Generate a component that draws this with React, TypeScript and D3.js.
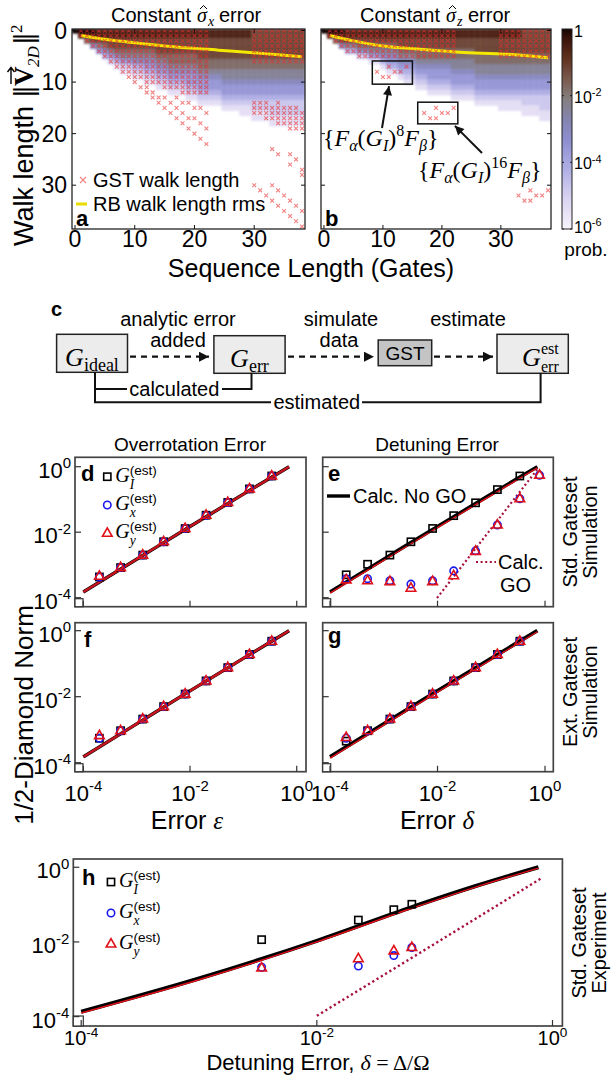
import React from 'react';
import * as d3 from 'd3';

const SANS = "'Liberation Sans', Arial, Helvetica, sans-serif";
const SERIF = "'Liberation Serif', 'DejaVu Serif', serif";
const MATH = "'DejaVu Serif', serif";

// ---------- a / b : walk-length probability maps ----------
// one string per sequence length 0..38, char at index r = walk length r,
// hex digit k means log10(prob) = -0.6 * k
const heatA = [
  '0', '01', '013', '0125', '11246', '112357', '1122468', '11223579',
  '112234689', '112234689', '1122345789', '1122345789', '11223456789', '11223456789',
  '112223456789', '112223456789', '1122233456789', '1122233456789', '1122233456789',
  '11222334566789', '11222334566789', '112222334566789', '112222334566789',
  '112222334566789', '112222334566789', '1122223344566789', '1122223344566789',
  '1122223344566789', '11222233445667899', '11222233445667899', '222222334456678899',
  '222222334456678899', '222222334456678899', '2222223344566788899', '2222223344566788899',
  '2222223344566788899', '2222223344566788899a', '2222223344566788899a', '2222223344566788899a',
];
const heatB = [
  '0', '01', '013', '0125', '11247', '11247', '112358', '112358', '1123469', '1123469',
  '11234579', '112345679', '112345679', '1122345679', '11223456789', '11223456789',
  '112233456789', '112233456789', '1122334566789', '1122334566789', '1122334566789',
  '1122334566789', '11223344566789', '11223344566789', '11223344566789', '11223344566789',
  '112223344566789', '112223344566789', '112223344566789', '112223344566789',
  '1122233445667899', '1122233445667899', '1122233445667899', '1122233445667899',
  '22222334456678899', '22222334456678899', '22222334456678899',
  '222223344566788899', '222223344566788899',
];

const rmsSeqA = [1, 5, 11, 16, 24, 31, 38];
const rmsA = [0.95, 1.7, 2.5, 3.1, 3.8, 4.4, 5.1];
const rmsSeqB = [1, 5, 10, 16, 23, 31, 38];
const rmsB = [0.95, 2.0, 3.0, 3.6, 4.2, 4.6, 5.3];

// GST walk lengths: runs are [sequence length, first walk length, last walk length]
const gstRunsA = [
  [1, 0, 1], [2, 0, 2], [3, 0, 3], [4, 0, 4], [5, 0, 5], [6, 0, 6], [7, 0, 7], [8, 0, 8],
  [9, 0, 8], [10, 0, 9], [11, 0, 9], [12, 0, 10], [13, 0, 10], [14, 0, 10], [15, 0, 11],
  [16, 0, 11], [17, 0, 11], [18, 0, 12], [19, 0, 12], [20, 0, 12], [21, 0, 12], [22, 0, 12],
  [30, 0, 6], [31, 0, 6], [32, 0, 6], [33, 0, 6], [34, 0, 6], [35, 0, 6], [36, 0, 6], [37, 0, 6], [38, 0, 6],
  [30, 14, 16], [31, 14, 16], [32, 14, 17], [33, 15, 17], [34, 14, 18], [35, 15, 18],
  [36, 15, 19], [37, 15, 19], [38, 16, 19],
];
const gstPtsA = [
  [9, 9], [10, 10], [11, 11], [12, 12], [13, 13], [14, 14], [15, 15], [16, 16], [17, 17],
  [18, 18], [19, 19], [20, 20], [21, 21], [22, 22],
  [12, 11], [13, 12], [14, 13], [15, 13], [16, 14], [17, 15], [18, 16], [19, 17], [20, 17], [21, 18], [22, 19],
  [17, 13], [18, 14], [19, 14], [20, 15], [21, 15], [22, 16],
  [33, 23], [34, 24], [36, 24], [36, 26], [37, 25], [38, 27], [38, 28],
  [30, 30], [31, 31], [32, 32], [33, 33], [34, 34], [35, 35], [36, 36], [37, 37], [38, 38],
  [33, 30], [34, 31], [35, 32], [36, 33], [37, 34], [38, 35],
];
const gstRunsB = [
  [1, 0, 1], [2, 0, 2], [3, 0, 3], [4, 0, 4], [5, 0, 4], [6, 0, 5], [7, 0, 5], [8, 0, 5],
  [9, 0, 5], [10, 0, 5], [11, 0, 5], [12, 0, 5], [13, 0, 5], [14, 0, 5], [15, 0, 5], [16, 0, 5],
  [17, 0, 5], [18, 0, 5], [19, 0, 5], [20, 0, 5], [21, 0, 5], [22, 0, 5],
  [30, 0, 5], [31, 0, 5], [32, 0, 5], [33, 0, 5], [34, 0, 5], [35, 0, 5], [36, 0, 5], [37, 0, 5], [38, 0, 5],
];
const gstPtsB = [
  [9, 8], [10, 9], [11, 7], [11, 9], [12, 8], [13, 8], [14, 7],
  [17, 16], [18, 17], [19, 15], [19, 17], [20, 16], [21, 16], [22, 15],
  [33, 32], [34, 33], [35, 31], [35, 33], [36, 32], [37, 32], [38, 31],
];

const seqTicks = [0, 10, 20, 30];
const probTicks = [1e-2, 1e-4, 1e-6];

// ---------- d - h : half diamond norm vs error ----------
const errX = [2e-4, 5e-4, 1.3e-3, 3.2e-3, 8.1e-3, 2.0e-2, 5.1e-2, 0.13, 0.34];
const errX10 = [2e-4, 5e-4, 1.3e-3, 3.2e-3, 8.1e-3, 2.0e-2, 5.1e-2, 0.13, 0.34, 0.79];

const dI = [4.3e-4, 8.3e-4, 2.0e-3, 5.1e-3, 1.29e-2, 3.3e-2, 8.1e-2, 0.21, 0.52];
const dX = [4.3e-4, 8.3e-4, 2.0e-3, 5.1e-3, 1.29e-2, 3.3e-2, 8.1e-2, 0.21, 0.52];
const dY = [4.5e-4, 8.3e-4, 2.0e-3, 5.1e-3, 1.29e-2, 3.3e-2, 8.1e-2, 0.21, 0.52];

const eI = [5.0e-4, 1.05e-3, 2.0e-3, 5.1e-3, 1.3e-2, 3.2e-2, 7.9e-2, 0.2, 0.52];
const eX = [3.8e-4, 3.8e-4, 3.3e-4, 2.6e-4, 3.3e-4, 6.6e-4, 2.7e-3, 1.66e-2, 0.105, 0.55];
const eY = [3.5e-4, 3.3e-4, 3.1e-4, 1.95e-4, 3.1e-4, 4.7e-4, 2.6e-3, 1.66e-2, 0.105, 0.55];

const fI = [5.5e-4, 9.3e-4, 2.1e-3, 5.0e-3, 1.2e-2, 3.0e-2, 7.6e-2, 0.19, 0.48];
const fX = [5.5e-4, 9.3e-4, 2.1e-3, 5.0e-3, 1.2e-2, 3.0e-2, 7.6e-2, 0.19, 0.48];
const fY = [6.6e-4, 9.3e-4, 2.1e-3, 5.0e-3, 1.2e-2, 3.0e-2, 7.6e-2, 0.19, 0.48];

const gI = [4.5e-4, 9.3e-4, 2.1e-3, 5.0e-3, 1.2e-2, 3.0e-2, 7.6e-2, 0.19, 0.48];
const gX = [5.5e-4, 9.3e-4, 2.1e-3, 5.0e-3, 1.2e-2, 3.0e-2, 7.6e-2, 0.19, 0.48];
const gY = [5.8e-4, 9.3e-4, 2.1e-3, 5.0e-3, 1.2e-2, 3.0e-2, 7.6e-2, 0.19, 0.48];

const calcX = [1e-4, 1e-3, 1e-2, 0.1, 0.72];
const calcNoGO = [1.5e-4, 1.5e-3, 1.5e-2, 0.145, 1.0];
const calcNoGORed = [1.38e-4, 1.38e-3, 1.38e-2, 0.133, 0.93];
const calcGOX = [0.0098, 0.1, 0.76];
const calcGO = [9.8e-5, 1.3e-2, 0.93];

const hX = [3.4e-3, 2.25e-2, 4.5e-2, 6.4e-2];
const hI = [1.15e-2, 3.85e-2, 7.3e-2, 0.102];
const hXg = [2.1e-3, 2.25e-3, 4.3e-3, 7.1e-3];
const hYg = [2.0e-3, 3.55e-3, 5.75e-3, 7.1e-3];
const hCalcX = [1e-4, 1e-3, 1e-2, 6.5e-2, 0.22, 0.76];
const hNoGO = [1.35e-4, 1.05e-3, 1.07e-2, 8.7e-2, 0.31, 1.0];
const hNoGORed = [1.25e-4, 0.97e-3, 1.0e-2, 8.1e-2, 0.29, 0.95];
const hGOX = [1e-2, 0.1, 0.79];
const hGO = [1.05e-4, 8.9e-3, 0.49];

const decades = [1e-4, 1e-2, 1];

// colour map of the probability bar (log10 prob -> colour)
const probColor = d3.scaleLinear<string>()
  .domain([0, -0.3, -0.9, -1.5, -2.1, -2.7, -3.3, -4.1, -5, -6])
  .range(['#150502', '#3a140a', '#62321f', '#7a5a4e', '#857f80', '#8484ae', '#8d8dcf', '#ababe3', '#d6d0f0', '#f8f4fb'])
  .interpolate(d3.interpolateRgb)
  .clamp(true);

const RED = '#e01018';
const BLUE = '#1a1aee';

const Pow = ({ x, y, e, anchor = 'middle', size = 22 }) => (
  <text x={x} y={y} textAnchor={anchor} fontSize={size}>
    10<tspan dy={-size * 0.42} fontSize={size * 0.68}>{e}</tspan>
  </text>
);

const GLabel = ({ x, y, sub, size = 20 }) => (
  <g>
    <text x={x} y={y} fontFamily={SERIF} fontStyle="italic" fontSize={size}>G</text>
    <text x={x + size * 0.72} y={y + size * 0.34} fontFamily={SERIF} fontStyle="italic" fontSize={size * 0.68}>{sub}</text>
    <text x={x + size * 0.72} y={y - size * 0.36} fontSize={size * 0.68}>(est)</text>
  </g>
);

const xMark = (cx, cy, key, s = 1.9) => (
  <path key={key} d={`M${cx - s},${cy - s}L${cx + s},${cy + s}M${cx - s},${cy + s}L${cx + s},${cy - s}`}
    stroke="#e83030" strokeWidth={1.1} opacity={0.6} />
);

function HeatPanel({ id, box, heat, rmsSeq, rms, runs, pts, showY }) {
  const x = d3.scaleLinear().domain([-0.5, 38.5]).range([box.x0, box.x1]);
  const y = d3.scaleLinear().domain([-0.3, 38.5]).range([box.y0, box.y1]);
  const cells = [];
  heat.forEach((col, c) => col.split('').forEach((ch, r) => {
    const top = Math.max(box.y0, y(r - 0.5));
    cells.push(
      <rect key={`${c}-${r}`} x={x(c - 0.5)} y={top} width={x(c + 0.5) - x(c - 0.5) + 0.4}
        height={y(r + 0.5) - top + 0.4} fill={probColor(-0.6 * parseInt(ch, 16))} />
    );
  }));
  const rmsPath = d3.line().x(d => x(d[0])).y(d => y(d[1])).curve(d3.curveMonotoneX)(rmsSeq.map((s, i) => [s, rms[i]]));
  const marks = [];
  runs.forEach(([s, r0, r1]) => d3.range(r0, r1 + 1).forEach(r => marks.push(xMark(x(s), y(r), `r${s}-${r}`))));
  pts.forEach(([s, r], i) => marks.push(xMark(x(s), y(r), `p${i}`)));
  const tl = 4;
  return (
    <g>
      <clipPath id={`clip${id}`}><rect x={box.x0} y={box.y0} width={box.x1 - box.x0} height={box.y1 - box.y0} /></clipPath>
      <g clipPath={`url(#clip${id})`}>
        <g filter="url(#soft)">{cells}</g>
        <path d={rmsPath} fill="none" stroke="#f4e800" strokeWidth={3} />
        {marks}
      </g>
      <rect x={box.x0} y={box.y0} width={box.x1 - box.x0} height={box.y1 - box.y0} fill="none" stroke="#111" strokeWidth={1.2} />
      {seqTicks.map(t => (
        <g key={t} stroke="#111" strokeWidth={1}>
          <line x1={x(t)} x2={x(t)} y1={box.y1} y2={box.y1 - tl} />
          <line x1={x(t)} x2={x(t)} y1={box.y0} y2={box.y0 + tl} />
          <line x1={box.x0} x2={box.x0 + tl} y1={y(t)} y2={y(t)} />
          <line x1={box.x1} x2={box.x1 - tl} y1={y(t)} y2={y(t)} />
        </g>
      ))}
      {seqTicks.map(t => (
        <text key={`xl${t}`} x={x(t)} y={247} textAnchor="middle" fontSize={23}>{t}</text>
      ))}
      {showY && seqTicks.map(t => (
        <text key={`yl${t}`} x={box.x0 - 5} y={y(t) + 8} textAnchor="end" fontSize={23}>{t}</text>
      ))}
    </g>
  );
}

function LogPanel({ box, xd, yd, showX, showY, tickSize = 22, children }) {
  const x = d3.scaleLog().domain([10 ** xd[0], 10 ** xd[1]]).range([box.x0, box.x1]);
  const y = d3.scaleLog().domain([10 ** yd[0], 10 ** yd[1]]).range([box.y1, box.y0]);
  const sq = box.sq || 8;
  return (
    <g>
      {children(x, y)}
      <rect x={box.x0} y={box.y0} width={box.x1 - box.x0} height={box.y1 - box.y0} fill="none" stroke="#444" strokeWidth={1.7} />
      <rect x={box.x0} y={box.y1 - sq} width={sq} height={sq} fill="#fff" stroke="#333" strokeWidth={1.2} />
      {decades.map((t, i) => (
        <g key={i} stroke="#333" strokeWidth={1.2}>
          <line x1={x(t)} x2={x(t)} y1={box.y1} y2={box.y1 - 6} />
          <line x1={box.x0} x2={box.x0 + 6} y1={y(t)} y2={y(t)} />
        </g>
      ))}
      {showY && decades.map((t, i) => (
        <Pow key={`y${i}`} x={box.x0 - 4} y={y(t) + 11} e={Math.round(Math.log10(t))} anchor="end" />
      ))}
      {showX && decades.map((t, i) => (
        <Pow key={`x${i}`} x={x(t)} y={box.y1 + showX} e={Math.round(Math.log10(t))} size={tickSize} />
      ))}
    </g>
  );
}

const sqMark = (cx, cy, key) => <rect key={key} x={cx - 3.6} y={cy - 3.6} width={7.2} height={7.2} fill="none" stroke="#000" strokeWidth={1.6} />;
const ciMark = (cx, cy, key) => <circle key={key} cx={cx} cy={cy} r={3.7} fill="none" stroke={BLUE} strokeWidth={1.6} />;
const trMark = (cx, cy, key) => (
  <path key={key} d={`M${cx},${cy - 5.4}L${cx + 4.8},${cy + 3}L${cx - 4.8},${cy + 3}Z`} fill="none" stroke={RED} strokeWidth={1.6} />
);

function series(x, y, xs, ys, mark, tag) {
  return ys.map((v, i) => mark(x(xs[i]), y(v), `${tag}${i}`));
}

function linePath(x, y, xs, ys) {
  return d3.line().x(d => x(d[0])).y(d => y(d[1])).curve(d3.curveMonotoneX)(xs.map((v, i) => [v, ys[i]]));
}

const SideLabel = ({ cy, b1, b2, l1, l2 }) => (
  <g fontSize={20}>
    <text transform={`translate(${b1},${cy}) rotate(-90)`} textAnchor="middle">{l1}</text>
    <text transform={`translate(${b2},${cy}) rotate(-90)`} textAnchor="middle">{l2}</text>
  </g>
);

const Legend3 = ({ x, y, gap }) => (
  <g>
    {sqMark(x, y, 'l1')}
    {ciMark(x, y + gap, 'l2')}
    {trMark(x, y + 2 * gap, 'l3')}
    <GLabel x={x + 8} y={y + 5} sub="I" />
    <GLabel x={x + 8} y={y + gap + 5} sub="x" />
    <GLabel x={x + 8} y={y + 2 * gap + 5} sub="y" />
  </g>
);

// "Constant σ̂_k error" built from pieces so the hat sits on the sigma
const SigmaTitle = ({ cx, k }) => {
  const x0 = cx - 77;
  return (
    <g fontSize={20}>
      <text x={x0} y={22}>Constant</text>
      <text x={x0 + 86} y={22} fontFamily={SERIF} fontStyle="italic">{'\u03C3'}</text>
      <path d={`M${x0 + 89},${9}L${x0 + 92.5},${5.5}L${x0 + 96},${9}`} fill="none" stroke="#000" strokeWidth={1} />
      <text x={x0 + 97} y={26} fontFamily={SERIF} fontStyle="italic" fontSize={14}>{k}</text>
      <text x={x0 + 108} y={22}>error</text>
    </g>
  );
};

const FLabel = ({ x, y, pow }) => (
  <text x={x} y={y} fontFamily={SERIF} fontSize={24}>
    {'{'}<tspan fontStyle="italic">F</tspan><tspan fontStyle="italic" fontSize={16} dy={5}>{'\u03B1'}</tspan>
    <tspan dy={-5}>(</tspan><tspan fontStyle="italic">G</tspan><tspan fontStyle="italic" fontSize={16} dy={5}>I</tspan>
    <tspan dy={-5}>)</tspan><tspan fontSize={16} dy={-10}>{pow}</tspan><tspan fontStyle="italic" dy={10}>F</tspan>
    <tspan fontStyle="italic" fontSize={16} dy={5}>{'\u03B2'}</tspan><tspan dy={-5}>{'}'}</tspan>
  </text>
);

// rotated y title of panels a/b, laid out piece by piece in the rotated frame
const WalkTitle = () => (
  <g transform="translate(33,134) rotate(-90)">
    <text x={-112} y={0} fontSize={27}>Walk length</text>
    <text x={36} y={0} fontFamily={MATH} fontSize={26}>{'\u2016'}</text>
    <text x={48} y={0} fontFamily={SERIF} fontWeight="bold" fontSize={27}>V</text>
    <path d="M50,-22L66,-22M62,-25.5L66.5,-22L62,-18.5" fill="none" stroke="#000" strokeWidth={1.4} />
    <text x={67} y={6} fontFamily={SERIF} fontStyle="italic" fontSize={17}>2D</text>
    <text x={89} y={0} fontFamily={MATH} fontSize={26}>{'\u2016'}</text>
    <text x={101} y={-11} fontFamily={SERIF} fontSize={17}>2</text>
  </g>
);

function Diagram() {
  const ay = 356.7;
  const boxes = [
    { x0: 56.6, x1: 127.5, y0: 334.3, y1: 372.3, fill: '#ececec' },
    { x0: 213.9, x1: 285.1, y0: 335.7, y1: 373.3, fill: '#ececec' },
    { x0: 378.2, x1: 431.7, y0: 340, y1: 365.7, fill: '#c4c4c4' },
    { x0: 497, x1: 568.3, y0: 334.3, y1: 373.3, fill: '#ececec' },
  ];
  return (
    <g fontSize={20}>
      <text x={51} y={316} fontWeight="bold" fontSize={20}>c</text>
      {boxes.map((b, i) => (
        <rect key={i} x={b.x0} y={b.y0} width={b.x1 - b.x0} height={b.y1 - b.y0} fill={b.fill} stroke="#222" strokeWidth={1.5} />
      ))}
      <text x={92} y={366} textAnchor="middle" fontFamily={SERIF}>
        <tspan fontStyle="italic" fontSize={26}>G</tspan><tspan fontSize={18} dy={5}>ideal</tspan>
      </text>
      <text x={249.5} y={367} textAnchor="middle" fontFamily={SERIF}>
        <tspan fontStyle="italic" fontSize={26}>G</tspan><tspan fontSize={18} dy={5}>err</tspan>
      </text>
      <text x={405} y={360} textAnchor="middle" fontSize={19}>GST</text>
      <text x={522} y={366} fontFamily={SERIF} fontStyle="italic" fontSize={26}>G</text>
      <text x={541} y={354} fontFamily={SERIF} fontSize={16}>est</text>
      <text x={541} y={372} fontFamily={SERIF} fontSize={16}>err</text>
      <g stroke="#111" strokeWidth={2.2} strokeDasharray="6 5" fill="none">
        <line x1={130} x2={209} y1={ay} y2={ay} markerEnd="url(#ah)" />
        <line x1={288} x2={374} y1={ay} y2={ay} markerEnd="url(#ah)" />
        <line x1={434} x2={493} y1={ay} y2={ay} markerEnd="url(#ah)" />
      </g>
      <text x={178} y={325.7} textAnchor="middle">analytic error</text>
      <text x={178} y={347.3} textAnchor="middle">added</text>
      <text x={341} y={325.7} textAnchor="middle">simulate</text>
      <text x={339} y={347.3} textAnchor="middle">data</text>
      <text x={468} y={325.7} textAnchor="middle">estimate</text>
      <g stroke="#111" strokeWidth={2} fill="none">
        <polyline points="95,372.3 95,402.3 271,402.3" />
        <line x1={95} x2={127} y1={389} y2={389} />
        <polyline points="222,389 251.5,389 251.5,373.3" />
        <polyline points="362,402.3 540.6,402.3 540.6,373.3" />
      </g>
      <text x={174.3} y={396} textAnchor="middle">calculated</text>
      <text x={316.8} y={409.3} textAnchor="middle">estimated</text>
    </g>
  );
}

export default function App() {
  const boxA = { x0: 72, x1: 305, y0: 29, y1: 229 };
  const boxB = { x0: 321, x1: 551, y0: 29, y1: 229 };
  const xB = d3.scaleLinear().domain([-0.5, 38.5]).range([boxB.x0, boxB.x1]);
  const yB = d3.scaleLinear().domain([-0.3, 38.5]).range([boxB.y0, boxB.y1]);
  const cb = d3.scaleLog().domain([1e-6, 1]).range([229, 29]);

  const boxD = { x0: 75, x1: 306, y0: 457.3, y1: 606.7 };
  const boxE = { x0: 322.7, x1: 553.3, y0: 457.3, y1: 606.7 };
  const boxF = { x0: 75, x1: 306, y0: 622.7, y1: 771.7 };
  const boxG = { x0: 322.7, x1: 553.3, y0: 622.7, y1: 771.7 };
  const boxH = { x0: 73.3, x1: 562.4, y0: 859, y1: 1026, sq: 10 };
  const xdL = [-4.156, 0.174], xdR = [-4.136, 0.154];
  const ydTop = [-4.275, 0.287], ydBot = [-4.273, 0.242];

  return (
    <svg width={611} height={1075} style={{ position: 'absolute', left: 0, top: 0, background: '#fff' }} fontFamily={SANS}>
      <defs>
        <filter id="soft" x="-5%" y="-5%" width="110%" height="110%">
          <feGaussianBlur stdDeviation="1.3" />
        </filter>
        <linearGradient id="cbar" x1="0" y1="0" x2="0" y2="1">
          {d3.range(0, 1.0001, 0.05).map(t => (
            <stop key={t} offset={t} stopColor={probColor(-6 * t)} />
          ))}
        </linearGradient>
        <marker id="ah" viewBox="0 0 10 10" refX="10" refY="5" markerWidth="14" markerHeight="10" markerUnits="userSpaceOnUse" orient="auto">
          <path d="M0,0L10,5L0,10Z" fill="#111" stroke="none" />
        </marker>
        <marker id="ah2" viewBox="0 0 10 10" refX="10" refY="5" markerWidth="11" markerHeight="9" markerUnits="userSpaceOnUse" orient="auto">
          <path d="M0,0L10,5L0,10Z" fill="#111" />
        </marker>
      </defs>

      {/* ---------- a ---------- */}
      <SigmaTitle cx={188} k="x" />
      <HeatPanel id="A" box={boxA} heat={heatA} rmsSeq={rmsSeqA} rms={rmsA} runs={gstRunsA} pts={gstPtsA} showY />
      {xMark(83, 180, 'leg', 3)}
      <text x={93} y={187} fontSize={20}>GST walk length</text>
      <line x1={76} x2={87} y1={204} y2={204} stroke="#e8dc00" strokeWidth={3} />
      <text x={93} y={211} fontSize={20}>RB walk length rms</text>
      <text x={76} y={226} fontSize={22} fontWeight="bold">a</text>

      {/* ---------- b ---------- */}
      <SigmaTitle cx={437} k="z" />
      <HeatPanel id="B" box={boxB} heat={heatB} rmsSeq={rmsSeqB} rms={rmsB} runs={gstRunsB} pts={gstPtsB} />
      <g fill="none" stroke="#111" strokeWidth={1.5}>
        <rect x={xB(8.2)} y={yB(5.9)} width={xB(15) - xB(8.2)} height={yB(10.4) - yB(5.9)} />
        <rect x={xB(15.9)} y={yB(13.9)} width={xB(22.7) - xB(15.9)} height={yB(18.1) - yB(13.9)} />
      </g>
      <g stroke="#111" strokeWidth={2}>
        <line x1={382} y1={128} x2={389} y2={yB(10.4) + 2} markerEnd="url(#ah2)" />
        <line x1={482} y1={153} x2={xB(22.2)} y2={yB(18.1) + 2} markerEnd="url(#ah2)" />
      </g>
      <FLabel x={323} y={146} pow="8" />
      <FLabel x={418} y={178} pow="16" />
      <text x={325} y={226} fontSize={22} fontWeight="bold">b</text>

      {/* colour bar */}
      <rect x={562} y={29} width={10} height={200} fill="url(#cbar)" stroke="#222" strokeWidth={1} />
      {probTicks.map(t => (
        <g key={t} stroke="#222">
          <line x1={562} x2={564} y1={cb(t)} y2={cb(t)} />
          <line x1={570} x2={572} y1={cb(t)} y2={cb(t)} />
        </g>
      ))}
      <text x={574} y={37} fontSize={16}>1</text>
      {probTicks.map(t => (
        <Pow key={t} x={574} y={Math.min(cb(t) + 7, 233)} e={Math.round(Math.log10(t))} anchor="start" size={16} />
      ))}
      <text x={586} y={256} textAnchor="middle" fontSize={19}>prob.</text>

      {/* axis titles of a/b */}
      <WalkTitle />
      <text x={311} y={277} textAnchor="middle" fontSize={25}>Sequence Length (Gates)</text>

      {/* ---------- c ---------- */}
      <Diagram />

      {/* ---------- d ---------- */}
      <text x={190} y={451} textAnchor="middle" fontSize={19}>Overrotation Error</text>
      <LogPanel box={boxD} xd={xdL} yd={ydTop} showY>
        {(x, y) => (
          <g>
            <path d={linePath(x, y, calcX, calcNoGO)} fill="none" stroke="#000" strokeWidth={3.4} />
            <path d={linePath(x, y, calcX, calcNoGO)} fill="none" stroke="#c8141e" strokeWidth={2.4} />
            {series(x, y, errX, dI, sqMark, 's')}
            {series(x, y, errX, dX, ciMark, 'c')}
            {series(x, y, errX, dY, trMark, 't')}
          </g>
        )}
      </LogPanel>
      <text x={81} y={481} fontSize={22} fontWeight="bold">d</text>
      <Legend3 x={107.3} y={476.7} gap={28.3} />

      {/* ---------- e ---------- */}
      <text x={437} y={451} textAnchor="middle" fontSize={19}>Detuning Error</text>
      <LogPanel box={boxE} xd={xdR} yd={ydTop}>
        {(x, y) => (
          <g>
            <path d={linePath(x, y, calcX, calcNoGO)} fill="none" stroke="#000" strokeWidth={3.6} />
            <path d={linePath(x, y, calcX, calcNoGORed)} fill="none" stroke={RED} strokeWidth={1.4} />
            <path d={linePath(x, y, calcGOX, calcGO)} fill="none" stroke="#a8103c" strokeWidth={2.2} strokeDasharray="2 2.6" />
            {series(x, y, errX, eI, sqMark, 's')}
            {series(x, y, errX10, eX, ciMark, 'c')}
            {series(x, y, errX10, eY, trMark, 't')}
          </g>
        )}
      </LogPanel>
      <text x={328} y={481} fontSize={22} fontWeight="bold">e</text>
      <line x1={327} x2={350} y1={496} y2={496} stroke="#000" strokeWidth={3.4} />
      <text x={353} y={503} fontSize={20}>Calc. No GO</text>
      <line x1={476} x2={496} y1={562} y2={562} stroke="#a8103c" strokeWidth={2.2} strokeDasharray="2 2.6" />
      <text x={498} y={569} fontSize={20}>Calc.</text>
      <text x={500} y={592} fontSize={20}>GO</text>
      <SideLabel cy={532} b1={577} b2={597} l1="Std. Gateset" l2="Simulation" />

      {/* ---------- f ---------- */}
      <LogPanel box={boxF} xd={xdL} yd={ydBot} showY showX={29}>
        {(x, y) => (
          <g>
            <path d={linePath(x, y, calcX, calcNoGO)} fill="none" stroke="#000" strokeWidth={3.4} />
            <path d={linePath(x, y, calcX, calcNoGO)} fill="none" stroke="#c8141e" strokeWidth={2.4} />
            {series(x, y, errX, fI, sqMark, 's')}
            {series(x, y, errX, fX, ciMark, 'c')}
            {series(x, y, errX, fY, trMark, 't')}
          </g>
        )}
      </LogPanel>
      <text x={84} y={647} fontSize={22} fontWeight="bold">f</text>
      <text x={187} y={829} textAnchor="middle" fontSize={25}>
        Error <tspan fontFamily={SERIF} fontStyle="italic">{'\u03B5'}</tspan>
      </text>

      {/* ---------- g ---------- */}
      <LogPanel box={boxG} xd={xdR} yd={ydBot} showX={29}>
        {(x, y) => (
          <g>
            <path d={linePath(x, y, calcX, calcNoGO)} fill="none" stroke="#000" strokeWidth={3.8} />
            <path d={linePath(x, y, calcX, calcNoGORed)} fill="none" stroke={RED} strokeWidth={1.4} />
            {series(x, y, errX, gI, sqMark, 's')}
            {series(x, y, errX, gX, ciMark, 'c')}
            {series(x, y, errX, gY, trMark, 't')}
          </g>
        )}
      </LogPanel>
      <text x={328} y={643} fontSize={22} fontWeight="bold">g</text>
      <text x={437} y={829} textAnchor="middle" fontSize={25}>
        Error <tspan fontFamily={SERIF} fontStyle="italic">{'\u03B4'}</tspan>
      </text>
      <SideLabel cy={692} b1={577} b2={597} l1="Ext. Gateset" l2="Simulation" />

      <text transform="translate(33,715) rotate(-90)" textAnchor="middle" fontSize={26}>1/2-Diamond Norm</text>

      {/* ---------- h ---------- */}
      <LogPanel box={boxH} xd={[-4.067, 0.084]} yd={[-4.252, 0.221]} showY showX={19} tickSize={20}>
        {(x, y) => (
          <g>
            <path d={linePath(x, y, hCalcX, hNoGO)} fill="none" stroke="#000" strokeWidth={4} />
            <path d={linePath(x, y, hCalcX, hNoGORed)} fill="none" stroke={RED} strokeWidth={1.4} />
            <path d={linePath(x, y, hGOX, hGO)} fill="none" stroke="#a8103c" strokeWidth={2.4} strokeDasharray="2.2 2.8" />
            {series(x, y, hX, hI, sqMark, 's')}
            {series(x, y, hX, hXg, ciMark, 'c')}
            {series(x, y, hX, hYg, trMark, 't')}
          </g>
        )}
      </LogPanel>
      <text x={82} y={885} fontSize={22} fontWeight="bold">h</text>
      <Legend3 x={111} y={882} gap={31} />
      <text x={318} y={1070} textAnchor="middle" fontSize={22}>
        Detuning Error, <tspan fontFamily={SERIF} fontStyle="italic">{'\u03B4'}</tspan>
        <tspan fontFamily={SERIF}> = {'\u0394'}/{'\u03A9'}</tspan>
      </text>
      <SideLabel cy={943} b1={586} b2={606} l1="Std. Gateset" l2="Experiment" />
    </svg>
  );
}
